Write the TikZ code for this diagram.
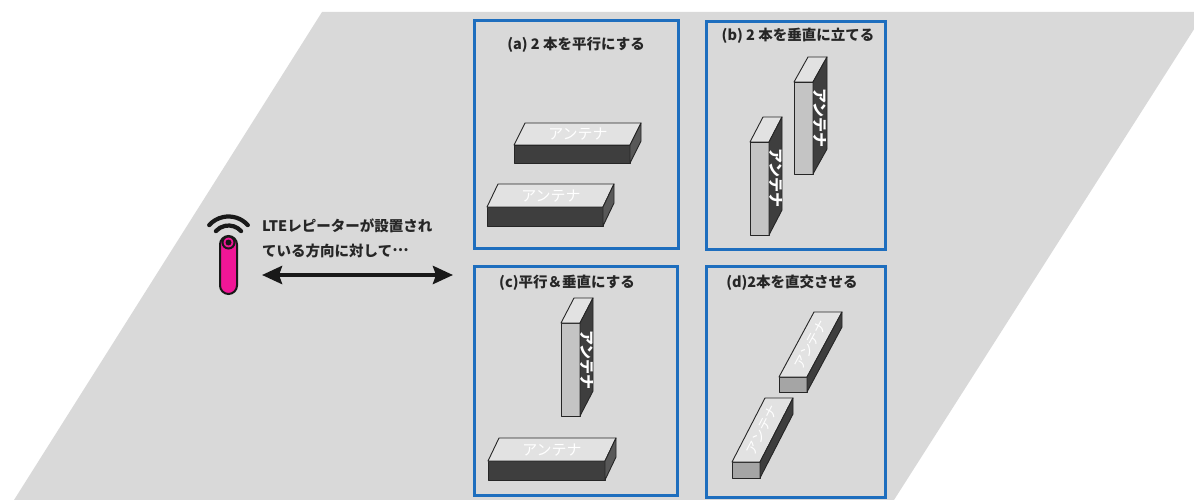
\documentclass[tikz,border=0pt]{standalone}
\usepackage{fontspec}
\setmainfont{Noto Sans CJK JP}
\usetikzlibrary{arrows.meta}

\definecolor{bggray}{RGB}{217,217,217}
\definecolor{frameblue}{RGB}{30,110,190}
\definecolor{pinkbody}{RGB}{240,22,150}
\definecolor{topface}{RGB}{226,226,226}
\definecolor{darkface}{RGB}{62,62,62}
\definecolor{sideface}{RGB}{88,88,88}
\definecolor{lightface}{RGB}{196,196,196}
\definecolor{endface}{RGB}{165,165,165}

% A box seen from front-top-right:
% #1 front fill, #2 top fill, #3 side fill,
% #4,#5 front face top-left corner, #6 width, #7 height, #8,#9 depth offset
\newcommand\cuboid[9]{%
  \filldraw[edge, fill=#1] (#4,#5) rectangle ({#4+#6},{#5+#7});
  \filldraw[edge, fill=#2] (#4,#5) -- ({#4+#8},{#5+#9}) -- ({#4+#6+#8},{#5+#9}) -- ({#4+#6},#5) -- cycle;
  \filldraw[edge, fill=#3] ({#4+#6},#5) -- ({#4+#6+#8},{#5+#9}) -- ({#4+#6+#8},{#5+#7+#9}) -- ({#4+#6},{#5+#7}) -- cycle;
}

\begin{document}
\begin{tikzpicture}[x=1pt, y=-1pt,
  edge/.style={draw=black!85, line width=0.9pt, line join=round},
  frame/.style={draw=frameblue, line width=3pt, fill=bggray, inner sep=0pt},
  title/.style={font=\bfseries\fontsize{14.5}{16}\selectfont, text=black!85, inner sep=0pt},
  antlabel/.style={font=\fontsize{15}{16}\selectfont, text=white, inner sep=0pt},
  uplabel/.style={font=\bfseries\fontsize{15}{16}\selectfont, text=white, inner sep=0pt, rotate=-90},
  waves/.style={line width=4.2pt, line cap=round, draw=black!90},
]
\useasboundingbox (0,0) rectangle (1194,500);

% slanted background plane
\fill[bggray] (322,12) -- (1205,12) -- (894,500) -- (14,500) -- cycle;

% four panels
\node[frame, minimum width=204pt, minimum height=227pt] (fa) at (576,134.5) {};
\node[frame, minimum width=179pt, minimum height=227pt] (fb) at (795.5,135.5) {};
\node[frame, minimum width=203pt, minimum height=229pt] (fc) at (575.5,380.5) {};
\node[frame, minimum width=179pt, minimum height=231pt] (fd) at (795.5,381.5) {};

\node[title] (ta) at (576,45) {(a) 2 本を平行にする};
\node[title] (tb) at (798,36) {(b) 2 本を垂直に立てる};
\node[title] (tc) at (567,283) {(c)平行＆垂直にする};
\node[title] (td) at (792,283) {(d)2本を直交させる};

% (a) two parallel horizontal antennas
\cuboid{darkface}{topface}{sideface}{514}{145}{116}{18}{11}{-22}
\node[antlabel] (la1) at (578,134) {アンテナ};
\cuboid{darkface}{topface}{sideface}{487}{207}{116}{19}{11}{-23}
\node[antlabel] (la2) at (551,196) {アンテナ};

% (b) two upright antennas
\cuboid{lightface}{topface}{darkface}{794}{82}{19}{92}{14}{-25}
\node[uplabel] (lb1) at (820,118) {アンテナ};
\cuboid{lightface}{topface}{darkface}{750}{142}{19}{93}{13}{-25}
\node[uplabel] (lb2) at (776,178) {アンテナ};

% (c) one upright, one horizontal
\cuboid{lightface}{topface}{darkface}{561}{323}{19}{93}{13}{-25}
\node[uplabel] (lc1) at (587,360) {アンテナ};
\cuboid{darkface}{topface}{sideface}{488}{461}{117}{19}{11}{-23}
\node[antlabel] (lc2) at (552,450) {アンテナ};

% (d) two antennas pointing along the diagonal
\cuboid{endface}{topface}{darkface}{779}{377}{28}{15}{35}{-65}
\node[antlabel, rotate=61.7, font=\fontsize{13.5}{15}\selectfont] (ld1) at (810.5,344.5) {アンテナ};
\cuboid{endface}{topface}{darkface}{732}{462}{28}{16}{33}{-64}
\node[antlabel, rotate=62.7, font=\fontsize{13.5}{15}\selectfont] (ld2) at (762.5,430) {アンテナ};

% repeater icon: radio waves above a pink body
\coordinate (wc) at (228.5,242.5);
\draw[waves] ([shift={(-42:17)}]wc) arc[start angle=-42, end angle=-138, radius=17];
\draw[waves] ([shift={(-42:26)}]wc) arc[start angle=-42, end angle=-138, radius=26];
\filldraw[fill=pinkbody, draw=black!90, line width=2pt, rounded corners=8.5pt] (220,236) rectangle (237,294);
\filldraw[fill=pinkbody, draw=black!90, line width=2pt] (wc) circle[radius=6];
\fill[black!90] (wc) circle[radius=3];

\node[font=\bfseries\fontsize{14.5}{25}\selectfont, text=black!85, align=left, anchor=west, inner sep=0pt] (note) at (262,238)
  {LTEレピーターが設置され\\ている方向に対して\raisebox{0.3em}{…}};

% double-headed arrow toward the panels
\coordinate (arrL) at (262,275);
\coordinate (arrR) at (453,275);
\draw[line width=4pt, black!90, {Stealth[length=20pt,width=18pt,inset=3pt]}-{Stealth[length=20pt,width=18pt,inset=3pt]}] (arrL) -- (arrR);
\end{tikzpicture}
\end{document}
